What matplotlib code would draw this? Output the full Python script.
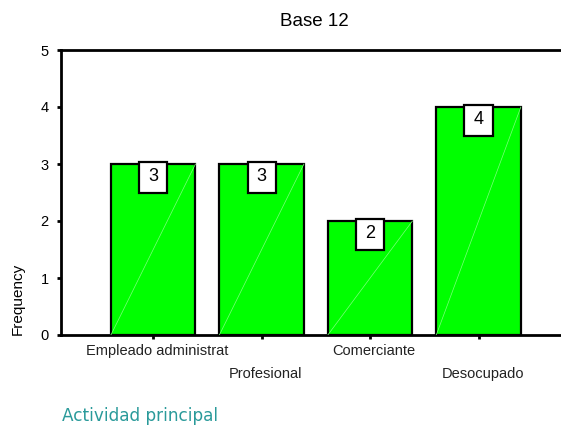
import matplotlib
matplotlib.use('Agg')
import matplotlib.pyplot as plt
import matplotlib.patches as patches
import numpy as np

plt.rcParams['font.family'] = ['Liberation Sans', 'DejaVu Sans']

# --- Data ---
categories = ['Empleado administrat', 'Profesional', 'Comerciante', 'Desocupado']
counts = [3, 3, 2, 4]
title = 'Base 12'
x_title = 'Actividad principal'
y_title = 'Frequency'

W, H = 561, 426
fig = plt.figure(figsize=(W / 100, H / 100), dpi=100)
# axes box in pixels: left 61, right 561, top 50, bottom 335
ax = fig.add_axes([61 / W, 1 - 335 / H, 500 / W, 285 / H])

x = np.arange(len(categories))
bar_w = 0.78
ax.bar(x, counts, width=bar_w, color='#00ff00', edgecolor='black', linewidth=1.6, zorder=2)

# faint diagonal highlight inside each bar
for xi, v in zip(x, counts):
    ax.plot([xi - bar_w / 2, xi + bar_w / 2], [0, v], color='#7dff7d', lw=0.5, zorder=3)

# value boxes
bw, bh = 0.26, 0.53
for xi, v in zip(x, counts):
    ax.add_patch(patches.Rectangle((xi - bw / 2, v - bh + 0.03), bw, bh, facecolor='white',
                                   edgecolor='black', linewidth=1.6, zorder=4))
    ax.text(xi, v - bh / 2 + 0.04, str(v), ha='center', va='center', fontsize=13, zorder=5)

ax.set_xlim(-0.85, 3.76)
ax.set_ylim(0, 5)
ax.set_yticks([0, 1, 2, 3, 4, 5])
ax.set_xticks(x)
ax.set_xticklabels([])

# alternating rows of category labels
for i, (xi, lab) in enumerate(zip(x, categories)):
    yoff = -16 if i % 2 == 0 else -39
    ax.annotate(lab, (xi, 0), xytext=(4, yoff), textcoords='offset pixels',
                ha='center', va='center', fontsize=10.5, color='#222222')

for s in ['left', 'bottom', 'top']:
    ax.spines[s].set_linewidth(2)
ax.spines['right'].set_visible(False)
ax.tick_params(axis='both', direction='out', length=3, width=2, labelsize=10.5, pad=4)
ax.tick_params(axis='y', pad=6)

fig.text(314 / W, 1 - 21 / H, title, ha='center', va='center', fontsize=13.5)
fig.text(62 / W, 1 - 416 / H, x_title, ha='left', va='center', fontsize=12.2,
         color='#2a9a9a', family='DejaVu Sans')
fig.text(18 / W, 1 - 299 / H, y_title, ha='center', va='center', rotation=90, fontsize=11)

fig.savefig('out.png', dpi=100)
